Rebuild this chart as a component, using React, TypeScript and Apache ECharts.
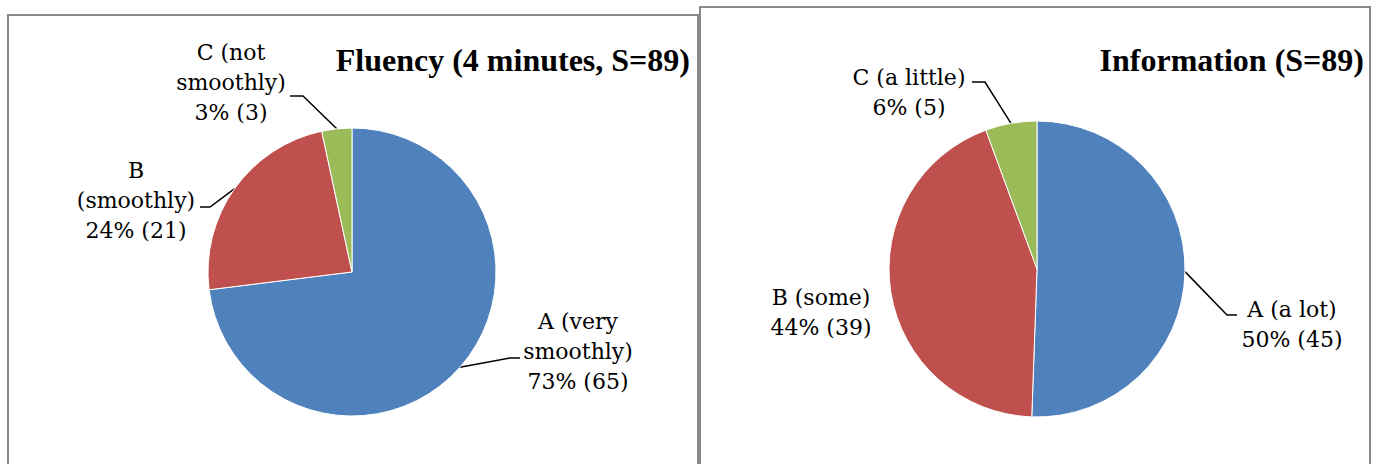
import React, { useEffect, useRef } from "react";
import * as echarts from "echarts";

const fluencyCategories = ["A (very\nsmoothly)", "B\n(smoothly)", "C (not\nsmoothly)"];
const fluencyValues = [65, 21, 3];
const infoCategories = ["A (a lot)", "B (some)", "C (a little)"];
const infoValues = [45, 39, 5];
const sliceColors = ["#4F81BD", "#C0504D", "#9BBB59"];
const titles = ["Fluency (4 minutes, S=89)", "Information (S=89)"];

// label layout (centers) and leader-line bends, per series
const labelPos = [
  [[578, 351], [136, 200], [231, 82]],
  [[1292, 324], [821, 312], [909, 92]],
];
const labelBends: (number[][] | null)[][] = [
  [[[510, 358], [520, 358]], [[210, 207], [200, 207]], [[303, 96], [290, 96]]],
  [[[1227, 315], [1237, 315]], null, [[985, 82], [972, 82]]],
];

const FONT = "'Liberation Serif', 'Times New Roman', serif";

export default function App() {
  const ref = useRef<HTMLDivElement>(null);
  useEffect(() => {
    document.body.style.margin = "0";
    const chart = echarts.init(ref.current!, null, { renderer: "svg" });
    const mk = (idx: number, cats: string[], vals: number[], center: number[], r: number) => ({
      type: "pie",
      center,
      radius: r,
      startAngle: 90,
      clockwise: true,
      percentPrecision: 0,
      silent: true,
      itemStyle: { borderColor: "#ffffff", borderWidth: 1 },
      label: {
        show: true,
        position: "outside",
        formatter: "{b}\n{d}% ({c})",
        fontFamily: "DejaVu Serif",
        fontSize: 22,
        lineHeight: 30,
        color: "#000000",
        align: "center",
      },
      labelLine: { show: true, lineStyle: { color: "#000000", width: 1.5 } },
      labelLayout: (p: any) => {
        const pos = labelPos[idx][p.dataIndex];
        const bend = labelBends[idx][p.dataIndex];
        const res: any = { x: pos[0], y: pos[1], align: "center", verticalAlign: "middle" };
        if (bend && p.labelLinePoints) {
          res.labelLinePoints = [p.labelLinePoints[0], bend[0], bend[1]];
        }
        return res;
      },
      data: cats.map((c, i) => ({
        name: c,
        value: vals[i],
        itemStyle: { color: sliceColors[i] },
        labelLine: { show: labelBends[idx][i] !== null },
      })),
    });
    chart.setOption({
      animation: false,
      graphic: [
        { type: "rect", shape: { x: 8, y: 15, width: 690, height: 500 }, style: { fill: "none", stroke: "#8a8a8a", lineWidth: 2 }, z: 0 },
        { type: "rect", shape: { x: 700, y: 7, width: 670, height: 500 }, style: { fill: "none", stroke: "#8a8a8a", lineWidth: 2 }, z: 0 },
        { type: "text", style: { text: titles[0], x: 690, y: 60, align: "right", verticalAlign: "middle", font: `bold 32px ${FONT}`, fill: "#000" } },
        { type: "text", style: { text: titles[1], x: 1364, y: 60, align: "right", verticalAlign: "middle", font: `bold 32px ${FONT}`, fill: "#000" } },
      ],
      series: [
        mk(0, fluencyCategories, fluencyValues, [352, 272], 144),
        mk(1, infoCategories, infoValues, [1037, 269], 148),
      ],
    });
    return () => chart.dispose();
  }, []);
  return <div ref={ref} style={{ width: 1376, height: 464 }} />;
}
